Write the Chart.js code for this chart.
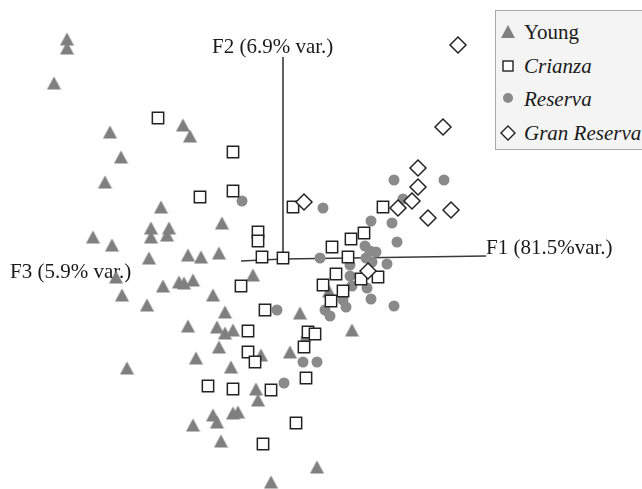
<!DOCTYPE html>
<html>
<head>
<meta charset="utf-8">
<script src="https://cdn.jsdelivr.net/npm/chart.js@4"></script>
<style>
html, body { margin: 0; padding: 0; background: #fff; }
#wrap { position: relative; width: 642px; height: 489px; overflow: hidden; }
#legend {
    position: absolute; left: 495px; top: 10px; width: 170px; height: 138px;
    background: #f4f4f4; border: 1px solid #a8a8a8;
    font-family: "Liberation Serif", "Times New Roman", serif; font-size: 21px; color: #1a1a1a;
}
.item { position: absolute; left: 0; height: 30px; line-height: 30px; white-space: nowrap; }
.item svg { position: absolute; left: 4px; top: 7px; }
.item span { position: absolute; left: 28px; }
.it { font-style: italic; }
</style>
</head>
<body>
<div id="wrap">
    <canvas id="pcaChart" width="642" height="489"></canvas>
    <div id="legend"></div>
</div>
<script>
// PCA scores (F1 horizontal, F2 vertical; arbitrary score units)
const youngX = [-21.6, -21.6, -22.9, -17.3, -10.0, -9.3, -16.2, -17.8, -12.2, -6.1, -13.2, -13.2, -11.4, -11.6, -19.0, -17.1, -13.4, -9.5, -8.2, -6.4, -16.7, -3.0, -12.0, -10.4, -9.9, -9.0, -16.1, -7.0, -13.6, -5.8, 1.7, -9.5, -6.6, -5.8, -5.0, -6.4, -2.2, 0.7, -8.7, -15.6, -5.2, -2.7, -2.5, -7.0, -6.6, -5.0, -4.5, -9.0, -6.2, -1.2, 3.4, 6.9, 4.6];
const youngY = [22.0, 21.1, 17.6, 12.7, 13.4, 12.3, 10.2, 7.7, 5.2, 3.6, 3.1, 2.2, 3.1, 2.4, 2.2, 1.4, 0.1, 0.4, 0.2, 0.6, -1.8, -1.6, -2.7, -2.3, -2.4, -2.1, -3.6, -3.6, -4.6, -5.3, -5.4, -6.7, -6.8, -7.4, -7.1, -8.8, -9.6, -9.3, -9.9, -10.9, -10.8, -13.0, -14.1, -15.6, -16.3, -15.4, -15.3, -16.6, -18.2, -22.3, -20.8, -7.1, -3.2];

const crianzaX = [-12.5, -5.0, -8.3, -5.0, -2.5, -2.5, -2.1, 0.0, 1.0, 10.0, 8.1, 6.8, 4.9, 6.5, 5.3, 7.8, 9.5, 4.0, 6.0, 4.8, -4.2, -1.8, -3.5, 2.5, 3.2, 2.1, -3.5, -2.8, 2.3, -7.5, -5.0, -1.2, 1.3, -2.0];
const crianzaY = [14.1, 10.7, 6.2, 6.8, 2.7, 1.8, 0.2, 0.1, 5.2, 5.2, 2.6, 2.0, 1.2, 0.2, -1.5, -2.0, -1.8, -2.6, -3.2, -4.2, -2.7, -5.1, -7.2, -7.3, -7.5, -8.8, -9.3, -10.3, -11.9, -12.7, -13.0, -13.1, -16.4, -18.5];

const reservaX = [-4.1, 4.0, 11.1, 16.1, 12.0, 8.8, 10.9, 11.4, 8.2, 8.7, 9.3, 8.3, 3.7, 6.7, 10.4, 6.7, 6.9, 8.4, 8.8, 6.0, 6.3, 11.1, 4.2, 4.7, -0.6, 2.3, 2.0, 3.4, 0.1, 8.9];
const reservaY = [5.8, 5.1, 7.9, 7.9, 6.0, 3.8, 3.6, 1.7, 1.3, 0.8, 0.7, 0.1, 0.1, -0.6, -0.5, -1.7, -2.7, -2.9, -4.0, -4.1, -4.8, -4.7, -5.1, -5.7, -5.1, -8.0, -10.3, -10.3, -12.4, -0.3];

const granX = [17.5, 16.0, 13.5, 13.5, 12.9, 11.5, 14.5, 16.8, 2.1, 8.5];
const granY = [21.4, 13.2, 9.1, 7.2, 5.8, 5.1, 4.1, 4.9, 5.7, -1.2];

// projected factor axes (end points from origin)
const axisF1 = [[0, 0], [20.3, 0.3]];
const axisF2 = [[0, 0], [0, 20.2]];
const axisF3 = [[0, 0], [-4.2, -0.2]];
const axisLabels = [
    { text: 'F2 (6.9% var.)', x: -7.1, y: 21.2 },
    { text: 'F1 (81.5%var.)', x: 20.3, y: 1.1 },
    { text: 'F3 (5.9% var.)', x: -27.3, y: -1.3 }
];

const toPts = (xs, ys) => xs.map((v, i) => ({ x: v, y: ys[i] }));
const toLine = arr => arr.map(p => ({ x: p[0], y: p[1] }));

// triangle marker as an image so it sits centred on its value
function makeTriangle(w, h, color) {
    const c = document.createElement('canvas');
    c.width = w; c.height = h;
    const g = c.getContext('2d');
    g.fillStyle = color;
    g.beginPath();
    g.moveTo(w / 2, 0.5);
    g.lineTo(w - 0.5, h - 0.5);
    g.lineTo(0.5, h - 0.5);
    g.closePath();
    g.fill();
    return c;
}
const triangleImg = makeTriangle(15, 14, '#7f7f7f');

// Legend (mixed roman / italic labels)
const legendItems = [
    { label: 'Young', italic: false, svg: '<svg width="16" height="16"><polygon points="8,1 15,14 1,14" fill="#808080"/></svg>' },
    { label: 'Crianza', italic: true, svg: '<svg width="16" height="16"><rect x="3" y="3" width="10" height="10" fill="#fff" stroke="#222" stroke-width="1.4"/></svg>' },
    { label: 'Reserva', italic: true, svg: '<svg width="16" height="16"><circle cx="8" cy="7" r="5" fill="#8a8a8a"/></svg>' },
    { label: 'Gran Reserva', italic: true, svg: '<svg width="16" height="16"><polygon points="8,1 15,8 8,15 1,8" fill="#fff" stroke="#222" stroke-width="1.4"/></svg>' }
];
const legendEl = document.getElementById('legend');
legendItems.forEach((it, i) => {
    const div = document.createElement('div');
    div.className = 'item';
    div.style.top = (6 + i * 33.5) + 'px';
    div.innerHTML = it.svg + `<span class="${it.italic ? 'it' : ''}">${it.label}</span>`;
    legendEl.appendChild(div);
});

const axisLabelPlugin = {
    id: 'axisLabels',
    beforeDatasetsDraw(chart) {
        const { ctx, scales: { x, y } } = chart;
        ctx.save();
        ctx.font = '21px "Liberation Serif"';
        ctx.fillStyle = '#1a1a1a';
        ctx.textBaseline = 'middle';
        ctx.textAlign = 'left';
        axisLabels.forEach(l => ctx.fillText(l.text, x.getPixelForValue(l.x), y.getPixelForValue(l.y)));
        ctx.restore();
    }
};

const axisLine = (data) => ({
    data: toLine(data),
    showLine: true,
    borderColor: '#3a3a3a',
    borderWidth: 1.6,
    pointRadius: 0,
    order: 10
});

new Chart(document.getElementById('pcaChart'), {
    type: 'scatter',
    data: {
        datasets: [
            axisLine(axisF1),
            axisLine(axisF2),
            axisLine(axisF3),
            {
                label: 'Young',
                data: toPts(youngX, youngY),
                pointStyle: triangleImg,
                pointRadius: 8,
                order: 4
            },
            {
                label: 'Reserva',
                data: toPts(reservaX, reservaY),
                pointStyle: 'circle',
                pointRadius: 5.5,
                backgroundColor: '#8a8a8a',
                borderColor: '#8a8a8a',
                borderWidth: 0,
                order: 3
            },
            {
                label: 'Crianza',
                data: toPts(crianzaX, crianzaY),
                pointStyle: 'rect',
                pointRadius: 8,
                backgroundColor: '#ffffff',
                borderColor: '#222222',
                borderWidth: 1.5,
                order: 2
            },
            {
                label: 'Gran Reserva',
                data: toPts(granX, granY),
                pointStyle: 'rectRot',
                pointRadius: 8,
                backgroundColor: '#ffffff',
                borderColor: '#222222',
                borderWidth: 1.5,
                order: 1
            }
        ]
    },
    options: {
        responsive: false,
        animation: false,
        layout: { padding: 0, autoPadding: false },
        clip: false,
        plugins: {
            legend: { display: false },
            tooltip: { enabled: false }
        },
        scales: {
            x: { type: 'linear', min: -28.3, max: 35.9, display: false },
            y: { type: 'linear', min: -23.0, max: 25.9, display: false }
        }
    },
    plugins: [axisLabelPlugin]
});
</script>
</body>
</html>
